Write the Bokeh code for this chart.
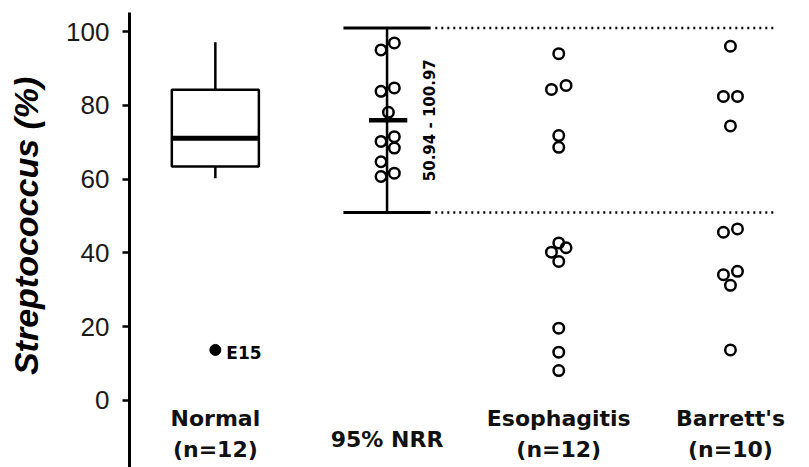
from bokeh.plotting import figure
from bokeh.models import Range1d, FixedTicker
from bokeh.core.properties import value
from bokeh.embed import file_html
from bokeh.resources import INLINE

# ---- data ----
group_pos = [1, 2, 3, 4]
group_names = ["Normal", "95% NRR", "Esophagitis", "Barrett's"]
group_counts = ["(n=12)", "", "(n=12)", "(n=10)"]

normal_box = {"low": 60.2, "q1": 63.4, "median": 71.1, "q3": 84.2, "high": 97.1}
normal_outlier = [13.7]
normal_outlier_label = ["E15"]

nrr_low = 50.94
nrr_high = 100.97
nrr_label = "50.94 - 100.97"
nrr_values = [95.0, 96.9, 83.8, 84.7, 78.1, 70.2, 71.5, 68.4, 64.7, 60.7, 61.6]
nrr_dx = [-0.035, 0.0425, -0.035, 0.0425, 0.008, -0.035, 0.0425, 0.0425, -0.035, -0.035, 0.0425]

eso_values = [94.0, 84.3, 85.4, 71.8, 68.6, 42.7, 40.2, 41.4, 37.7, 19.6, 13.1, 8.1]
eso_dx = [0, -0.0425, 0.0425, 0, 0, 0, -0.0425, 0.0425, 0, 0, 0, 0]

bar_values = [96.0, 82.4, 82.4, 74.4, 45.6, 46.5, 34.1, 35.0, 31.2, 13.7]
bar_dx = [0, -0.041, 0.041, 0, -0.041, 0.041, -0.041, 0.041, 0, 0]

y_ticks = [0, 20, 40, 60, 80, 100]
y_title = "Streptococcus (%)"

# ---- figure ----
W, H = 809, 467
LEFT, TOP = 129, 12
p = figure(width=W, height=H, output_backend="svg", toolbar_location=None,
           x_axis_type=None, tools="")
p.x_range = Range1d(0.5, 0.5 + (W - LEFT) / 171.7)
p.y_range = Range1d(-18.16, 105.15)
p.min_border_left = LEFT
p.min_border_right = 0
p.min_border_top = TOP
p.min_border_bottom = 0
p.outline_line_color = None
p.xgrid.visible = False
p.ygrid.visible = False
p.background_fill_color = "white"
p.border_fill_color = "white"

ax = p.yaxis[0]
ax.ticker = FixedTicker(ticks=y_ticks)
ax.axis_line_width = 3
ax.axis_line_color = "black"
ax.major_tick_line_width = 2.5
ax.major_tick_line_color = "black"
ax.major_tick_out = 7
ax.major_tick_in = 0
ax.minor_tick_line_color = None
ax.major_label_standoff = 13
ax.major_label_text_font = "Liberation Sans"
ax.major_label_text_font_size = "26px"
ax.major_label_text_color = "#1a1a1a"
# leading no-break spaces nudge the centred title upward to match the reference
ax.axis_label = "\u00a0\u00a0\u00a0" + y_title
ax.axis_label_text_font = "Liberation Sans"
ax.axis_label_text_font_style = "bold italic"
ax.axis_label_text_font_size = "34px"
ax.axis_label_text_color = "black"
ax.axis_label_standoff = 18

# ---- Normal box plot ----
bx = group_pos[0]
p.segment(x0=[bx, bx], y0=[normal_box["q3"], normal_box["q1"]],
          x1=[bx, bx], y1=[normal_box["high"], normal_box["low"]],
          line_color="black", line_width=2.5)
p.vbar(x=[bx], width=0.507, top=[normal_box["q3"]], bottom=[normal_box["q1"]],
       fill_color="white", line_color="black", line_width=2.5)
p.segment(x0=[bx - 0.258], x1=[bx + 0.258], y0=[normal_box["median"]], y1=[normal_box["median"]],
          line_color="black", line_width=5)
p.scatter(x=[bx], y=normal_outlier, size=11, marker="circle",
          fill_color="black", line_color="black", line_width=1)
p.text(x=[bx + 0.064], y=[normal_outlier[0] - 0.8], text=normal_outlier_label,
       text_font=value("DejaVu Sans"), text_font_style="bold", text_font_size="17px",
       text_align="left", text_baseline="alphabetic", text_color="black")

# ---- 95% NRR ----
nx = group_pos[1]
p.segment(x0=[nx], x1=[nx], y0=[nrr_low], y1=[nrr_high], line_color="black", line_width=2.5)
p.segment(x0=[nx - 0.254, nx - 0.254], x1=[nx + 0.254, nx + 0.254],
          y0=[nrr_low, nrr_high], y1=[nrr_low, nrr_high], line_color="black", line_width=3)
nrr_mean = (nrr_low + nrr_high) / 2
p.segment(x0=[nx - 0.105], x1=[nx + 0.118], y0=[nrr_mean], y1=[nrr_mean],
          line_color="black", line_width=4.5)
p.segment(x0=[nx + 0.281, nx + 0.281], x1=[4.26, 4.26], y0=[nrr_low, nrr_high],
          y1=[nrr_low, nrr_high], line_color="black", line_width=2.5, line_dash="2 4")
p.scatter(x=[nx + d for d in nrr_dx], y=nrr_values, size=10.5, marker="circle",
          fill_color="white", fill_alpha=0, line_color="black", line_width=2.5)
p.text(x=[nx + 0.252], y=[nrr_mean], text=[nrr_label], angle=1.5708,
       text_font=value("DejaVu Sans"), text_font_style="bold", text_font_size="15px",
       text_align="center", text_baseline="middle", text_color="black")

# ---- Esophagitis / Barrett's ----
p.scatter(x=[group_pos[2] + d for d in eso_dx], y=eso_values, size=10.5, marker="circle",
          fill_color="white", fill_alpha=0, line_color="black", line_width=2.5)
p.scatter(x=[group_pos[3] + d for d in bar_dx], y=bar_values, size=10.5, marker="circle",
          fill_color="white", fill_alpha=0, line_color="black", line_width=2.5)

# ---- category labels ----
name_y = [-4.9, -10.5, -4.9, -4.9]
p.text(x=group_pos, y=name_y, text=group_names,
       text_font=value("DejaVu Sans"), text_font_style="bold", text_font_size="22px",
       text_align="center", text_baseline="alphabetic", text_color="#111111")
cx = [g for g, c in zip(group_pos, group_counts) if c]
ct = [c for c in group_counts if c]
p.text(x=cx, y=[-13.4] * len(cx), text=ct,
       text_font=value("DejaVu Sans"), text_font_style="bold", text_font_size="22px",
       text_align="center", text_baseline="alphabetic", text_color="#111111")

open("out.html", "w").write(file_html(p, INLINE))
